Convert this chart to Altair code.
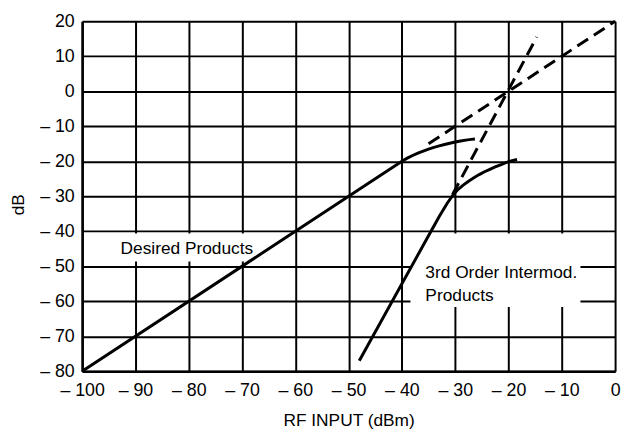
import altair as alt
import pandas as pd

# Desired products (solid) and its dashed extrapolation
desired_x = [-100, -40, -39, -38, -37, -36, -35, -34, -33, -32, -31, -30, -29, -28, -27, -26.3]
desired_y = [-80, -20, -19.1, -18.35, -17.7, -17.1, -16.55, -16.05, -15.6, -15.2, -14.85, -14.5, -14.2, -13.95, -13.75, -13.65]
desired_ext_x = [-35, 0]
desired_ext_y = [-15, 20]

# 3rd order intermod products (solid) and dashed extrapolation
im3_x = [-48, -44, -40, -36, -33, -31.5, -30.5, -29.5, -28.5, -27.5, -26.5, -25.5, -24.5, -23.5, -22.5, -21.5, -20.5, -19.5, -18.4]
im3_y = [-77, -66, -55, -44, -35.8, -32, -29.8, -28.1, -26.8, -25.7, -24.7, -23.8, -23.0, -22.3, -21.6, -21.0, -20.4, -19.9, -19.5]
im3_ext_x = [-30.5, -14.7]
im3_ext_y = [-29.5, 15.5]

# annotation labels
label_text = ["Desired Products", "3rd Order Intermod.", "Products"]
label_x = [-92.8, -35.6, -35.6]
label_y = [-45, -52, -58.5]

# white label backgrounds
box_x = [-93.5, -38.4]
box_x2 = [-68, -6.5]
box_y = [-40.6, -40.6]
box_y2 = [-48.6, -61.6]

x_ticks = list(range(-100, 1, 10))
y_ticks = list(range(-80, 21, 10))

FONT = "Liberation Sans"

xs = alt.Scale(domain=[-100, 0], nice=False, zero=False)
ys = alt.Scale(domain=[-80, 20], nice=False, zero=False)

label_expr = "datum.value < 0 ? '\u2013 ' + abs(datum.value) : '' + datum.value"

x_axis = alt.Axis(values=x_ticks, title="RF INPUT (dBm)", labelExpr=label_expr,
                  grid=True, gridColor="black", gridWidth=2, gridOpacity=1,
                  domainColor="black", domainWidth=2.5, ticks=False, labelPadding=10,
                  labelFontSize=18, labelFont=FONT, labelColor="black", labelOverlap=False,
                  titleFontSize=17.5, titleFont=FONT, titleFontWeight="normal", titleColor="black",
                  titleY=50, titleBaseline="middle", labelFlush=False)
y_axis = alt.Axis(values=y_ticks, title="dB", labelExpr=label_expr,
                  grid=True, gridColor="black", gridWidth=2, gridOpacity=1,
                  domainColor="black", domainWidth=2.5, ticks=False, labelPadding=8,
                  labelFontSize=18, labelFont=FONT, labelColor="black", labelOverlap=False,
                  titleFontSize=17.5, titleFont=FONT, titleFontWeight="normal", titleColor="black",
                  titleX=-64, titleY=185, titleBaseline="middle", titleAlign="center",
                  labelFlush=False)

def line_df(xv, yv):
    return pd.DataFrame({"x": xv, "y": yv, "i": range(len(xv))})

boxes = alt.Chart(pd.DataFrame({"x": box_x, "x2": box_x2, "y": box_y, "y2": box_y2})).mark_rect(
    color="white").encode(
    x=alt.X("x:Q", scale=xs, axis=x_axis), x2="x2",
    y=alt.Y("y:Q", scale=ys, axis=y_axis), y2="y2")

def line_layer(xv, yv, dash=None):
    kw = dict(color="black", strokeWidth=3)
    if dash:
        kw["strokeDash"] = dash
    return alt.Chart(line_df(xv, yv)).mark_line(**kw).encode(
        x=alt.X("x:Q", scale=xs, axis=x_axis), y=alt.Y("y:Q", scale=ys, axis=y_axis), order="i:Q")

desired = line_layer(desired_x, desired_y)
desired_ext = line_layer(desired_ext_x, desired_ext_y, [13, 7])
im3 = line_layer(im3_x, im3_y)
im3_ext = line_layer(im3_ext_x, im3_ext_y, [13, 7])

labels = alt.Chart(pd.DataFrame({"t": label_text, "x": label_x, "y": label_y})).mark_text(
    align="left", baseline="middle", font=FONT, fontSize=17.5, color="black").encode(
    x=alt.X("x:Q", scale=xs, axis=x_axis), y=alt.Y("y:Q", scale=ys, axis=y_axis), text="t:N")

chart = alt.layer(boxes, desired, desired_ext, im3, im3_ext, labels).properties(
    width=539, height=354,
    autosize=alt.AutoSizeParams(type="none"),
    padding={"left": 75, "top": 11, "right": 8, "bottom": 60},
).configure_view(stroke="black", strokeWidth=2).configure(background="white")

chart.save("out.html", embed_options={"renderer": "svg", "actions": False})
